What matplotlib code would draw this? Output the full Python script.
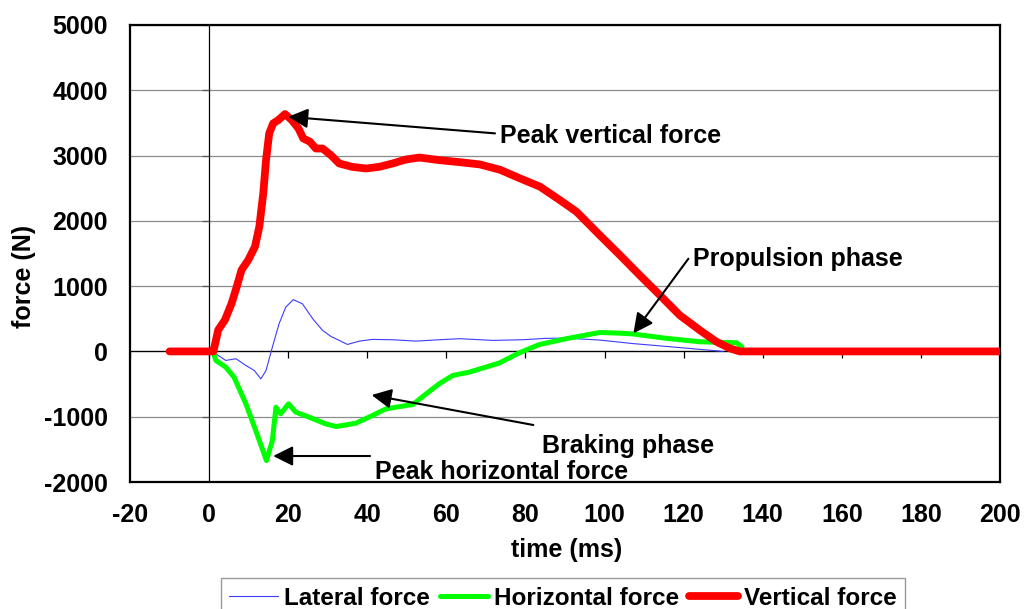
import numpy as np
import matplotlib
matplotlib.use("Agg")
import matplotlib.pyplot as plt

# ---- data -------------------------------------------------------------
lat_t = [1, 1.7, 4.2, 6.8, 9.3, 11.4, 13.1, 14.4, 16.0, 17.7, 19.4, 21.3, 23.6,
         26.2, 28.7, 30.8, 32.9, 35.0, 38.0, 41.3, 46.4, 52.3, 58.2, 63.3, 71.7,
         79.3, 85.0, 90.3, 98.8, 107.2, 111.5, 124.1, 130.0]
lat_f = [0, -36, -138, -112, -215, -291, -420, -291, 66, 425, 680, 793, 730,
         501, 322, 230, 169, 107, 158, 184, 179, 158, 179, 195, 169,
         179, 200, 204, 174, 120, 98, 32, 0]

hor_t = [1, 1.7, 4.2, 6.3, 9.3, 11.8, 14.5, 16.0, 16.9, 18.1, 20.1, 21.9, 25.3,
         29.5, 32.1, 37.1, 41.3, 44.7, 51.5, 54.9, 58.2, 61.6, 65.8, 70.0, 73.4,
         78.5, 83.5, 90.3, 98.8, 103.8, 107.3, 115.7, 124.1, 128.3, 133.4,
         134.7]
hor_f = [0, -138, -240, -394, -802, -1212, -1672, -1365, -854, -956, -802, -930,
         -1007, -1110, -1150, -1100, -982, -880, -813, -650, -495, -368, -317,
         -240, -177, -20, 105, 195, 290, 280, 267, 200, 148, 140, 133, 72]

ver_t = [-10, 0, 1.1, 2.3, 4.0, 5.7, 7.0, 8.2, 9.9, 11.6, 12.7, 13.7, 14.4,
         15.2, 16.2, 17.5, 19.2, 20.9, 22.6, 23.8, 25.5, 27.0, 28.7, 30.8,
         32.9, 36.2, 39.7, 43.0, 46.4, 49.8, 53.2, 58.2, 63.4, 68.5, 73.6,
         78.6, 83.7, 88.7, 92.9, 98.8, 103.9, 108.9, 114.0, 119.0, 124.1,
         128.3, 131.7, 134.2, 140, 200]
ver_f = [0, 0, 0, 328, 481, 737, 992, 1247, 1400, 1604, 1910, 2421, 2931,
         3340, 3493, 3544, 3636, 3544, 3416, 3263, 3212, 3108, 3108, 3006,
         2879, 2827, 2802, 2827, 2879, 2940, 2970, 2930, 2899, 2864, 2782,
         2651, 2523, 2318, 2140, 1780, 1474, 1167, 861, 555, 325,
         148, 47, 0, 0, 0]

x_ticks = list(range(-20, 201, 20))
y_ticks = list(range(-2000, 5001, 1000))

series_names = ["Lateral force", "Horizontal force", "Vertical force"]

# annotations: (label, arrow tip, arrow tail, text anchor)
notes = [
    ("Peak vertical force", (20.0, 3594), (72.3, 3340), (73.6, 3293)),
    ("Propulsion phase", (107.3, 277), (121.2, 1420), (122.4, 1420)),
    ("Braking phase", (41.1, -668), (82.0, -1127), (84.1, -1449)),
    ("Peak horizontal force", (16.2, -1602), (40.7, -1602), (41.9, -1843)),
]

# ---- style ------------------------------------------------------------
plt.rcParams["font.family"] = ["Liberation Sans", "DejaVu Sans"]
plt.rcParams["font.weight"] = "bold"
plt.rcParams["axes.unicode_minus"] = False

W, H = 1027, 609
fig = plt.figure(figsize=(W / 100, H / 100), dpi=100)
ax = fig.add_axes([130 / W, (H - 482) / H, 870 / W, 457 / H])

ax.set_xlim(-20, 200)
ax.set_ylim(-2000, 5000)
ax.set_xticks(x_ticks)
ax.set_yticks(y_ticks)
ax.tick_params(length=0, labelsize=18)
ax.tick_params(axis="x", pad=15)
ax.tick_params(axis="y", pad=16)
for lab in ax.get_xticklabels() + ax.get_yticklabels():
    lab.set_fontweight("bold")

for s in ax.spines.values():
    s.set_linewidth(1.6)
    s.set_color("black")

ax.yaxis.grid(True, color="#8c8c8c", linewidth=0.9)
ax.set_axisbelow(True)

# zero axes with Excel-style tick marks
ax.axhline(0, color="black", linewidth=0.9, zorder=1)
ax.axvline(0, color="black", linewidth=0.9, zorder=1)
ax.plot(x_ticks, np.zeros(len(x_ticks)), ls="none", marker=3, ms=5,
        mew=0.9, color="black", zorder=1, clip_on=False)
ax.plot(np.zeros(len(y_ticks)), y_ticks, ls="none", marker=0, ms=5,
        mew=0.9, color="#555555", zorder=1)

# series
ax.plot(lat_t, lat_f, color="#3b3bff", linewidth=0.8, label=series_names[0],
        zorder=3)
ax.plot(hor_t, hor_f, color="#00ff00", linewidth=3.6, label=series_names[1],
        solid_capstyle="round", solid_joinstyle="round", zorder=4)
ax.plot(ver_t, ver_f, color="#ff0000", linewidth=5.6, label=series_names[2],
        solid_capstyle="round", solid_joinstyle="round", zorder=5)

# annotations
for label, tip, tail, anchor in notes:
    ax.annotate("", xy=tip, xytext=tail,
                arrowprops=dict(arrowstyle="-|>,head_length=0.6,head_width=0.3",
                                mutation_scale=20, color="black", lw=1.5,
                                shrinkA=0, shrinkB=0),
                zorder=6)
    ax.text(anchor[0], anchor[1], label, fontsize=18, fontweight="bold",
            ha="left", va="center", zorder=7)

ax.set_xlabel("time (ms)", fontsize=18, fontweight="bold")
ax.set_ylabel("force (N)", fontsize=18, fontweight="bold")
ax.xaxis.set_label_coords((567 - 130) / 870, (482 - 538) / 457)
ax.yaxis.set_label_coords((36 - 130) / 870, (482 - 276) / 457)

leg = fig.legend(loc="upper center", bbox_to_anchor=(563 / W, 1 - 578 / H),
                 ncol=3, frameon=True, fancybox=False, handlelength=2.0,
                 handletextpad=0.25, columnspacing=0.4, borderpad=0.35,
                 borderaxespad=0,
                 prop=dict(family="Liberation Sans", weight="bold", size=17.5))
leg.get_frame().set_edgecolor("#808080")
leg.get_frame().set_linewidth(1.0)

fig.savefig("out.png", dpi=100)
